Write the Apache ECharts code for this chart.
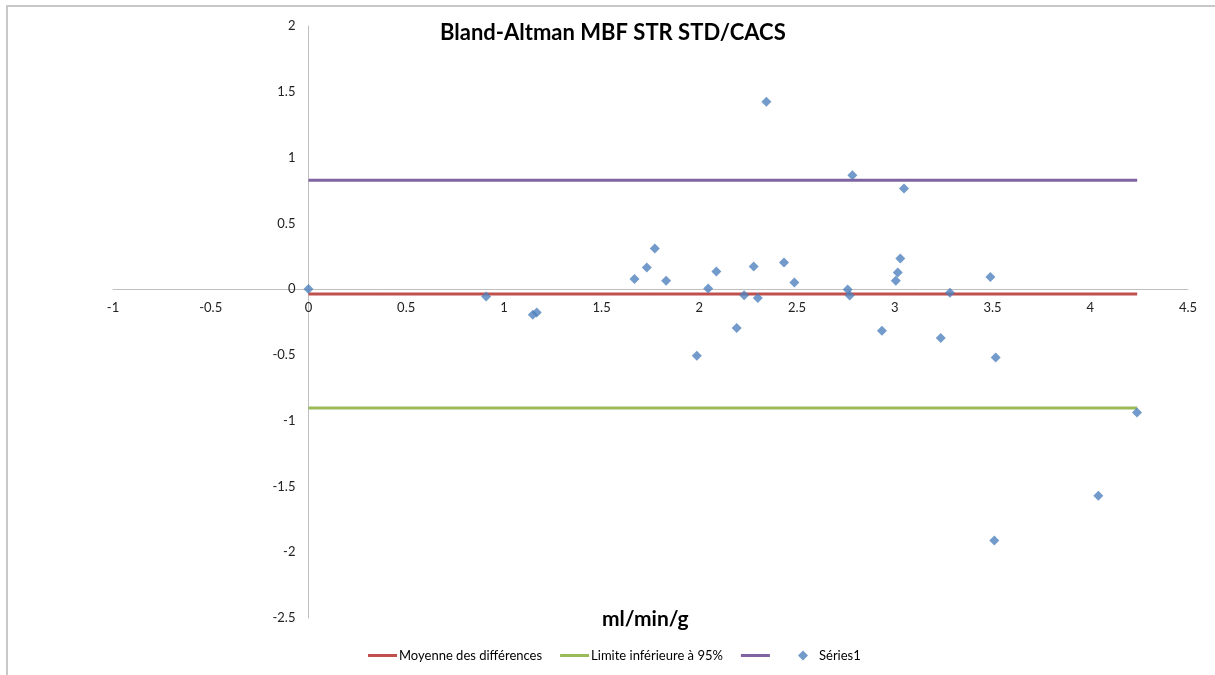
<!DOCTYPE html>
<html>
<head>
<meta charset="utf-8">
<script src="https://cdn.jsdelivr.net/npm/echarts@6/dist/echarts.min.js"></script>
<style>
html,body{margin:0;padding:0;background:#fff;}
#chart{width:1215px;height:675px;}
</style>
</head>
<body>
<div id="chart"></div>
<script>
// Data
var titleText = 'Bland-Altman MBF STR STD/CACS';
var xAxisTitle = 'ml/min/g';
var seriesNames = ['Moyenne des différences', 'Limite inférieure à 95%', ' ', 'Séries1'];
var xTicks = {min: -1, max: 4.5, interval: 0.5};
var yTicks = {min: -2.5, max: 2, interval: 0.5};

var meanDiff = -0.038;
var lowerLimit = -0.904;
var upperLimit = 0.828;
var lineXRange = [0, 4.24];

var pointX = [0, 0.909, 1.148, 1.168, 1.668, 1.731, 1.772, 1.830, 2.045, 2.087, 2.191, 2.229, 2.278, 2.299, 2.343, 2.433, 2.486,
              2.759, 2.769, 2.783, 2.934, 3.005, 3.015, 3.028, 3.047, 3.235, 3.282, 3.489, 3.516, 3.509, 4.041, 4.239, 1.987];
var pointY = [0, -0.056, -0.195, -0.177, 0.076, 0.164, 0.308, 0.063, 0.005, 0.134, -0.296, -0.046, 0.172, -0.068, 1.424, 0.202, 0.050,
              -0.003, -0.048, 0.866, -0.317, 0.063, 0.126, 0.232, 0.764, -0.372, -0.028, 0.093, -0.519, -1.911, -1.570, -0.937, -0.506];

var W = 1215, H = 675;
var grid = {left: 113, right: 27, top: 26, bottom: 57};
var gridW = W - grid.left - grid.right;
var gridH = H - grid.top - grid.bottom;
// shift each axis (line + labels) so it crosses the other axis at zero
var xAxisOffset = -gridH * (0 - yTicks.min) / (yTicks.max - yTicks.min);
var yAxisOffset = -gridW * (0 - xTicks.min) / (xTicks.max - xTicks.min);

var chart = echarts.init(document.getElementById('chart'));

function hLine(v) {
  return [[lineXRange[0], v], [lineXRange[1], v]];
}
var scatterData = pointX.map(function (x, i) { return [x, pointY[i]]; });

var font = 'Lato, "Liberation Sans", sans-serif';

var option = {
  animation: false,
  backgroundColor: '#ffffff',
  textStyle: {fontFamily: font},
  title: [
    {text: titleText, left: 440, top: 22, padding: 0,
     textStyle: {fontFamily: font, fontWeight: 'bold', fontSize: 22, color: '#000'}},
    {text: xAxisTitle, left: 602, top: 609, padding: 0,
     textStyle: {fontFamily: font, fontWeight: 'bold', fontSize: 21, color: '#000'}}
  ],
  graphic: [{
    type: 'rect', silent: true,
    shape: {x: 7, y: 6, width: 1400, height: 900},
    style: {fill: 'none', stroke: '#c8c8c8', lineWidth: 2}
  }],
  legend: [
    {
      data: [seriesNames[0], seriesNames[1], seriesNames[2]],
      left: 368, top: 649, padding: 0, itemWidth: 29, itemHeight: 3, itemGap: 18,
      icon: 'rect',
      formatter: function (n) { return n.trim(); },
      textStyle: {fontFamily: font, fontSize: 13, color: '#000', padding: [0, 0, 0, -3]}
    },
    {
      data: [{name: seriesNames[3], icon: 'diamond'}],
      left: 798, top: 649, padding: 0, itemWidth: 10, itemHeight: 10,
      textStyle: {fontFamily: font, fontSize: 13, color: '#000', padding: [0, 0, 0, 6]}
    }
  ],
  grid: {left: grid.left, right: grid.right, top: grid.top, bottom: grid.bottom, containLabel: false},
  xAxis: {
    type: 'value', min: xTicks.min, max: xTicks.max, interval: xTicks.interval,
    position: 'bottom', offset: xAxisOffset,
    axisLine: {onZero: false, lineStyle: {color: '#bfbfbf', width: 1}},
    axisTick: {show: false},
    splitLine: {show: false},
    axisLabel: {margin: 12, color: '#222', fontSize: 13, fontFamily: font}
  },
  yAxis: {
    type: 'value', min: yTicks.min, max: yTicks.max, interval: yTicks.interval,
    position: 'left', offset: yAxisOffset,
    axisLine: {show: true, onZero: false, lineStyle: {color: '#bfbfbf', width: 1}},
    axisTick: {show: false},
    splitLine: {show: false},
    axisLabel: {margin: 13, color: '#222', fontSize: 13, fontFamily: font}
  },
  series: [
    {name: seriesNames[0], type: 'line', data: hLine(meanDiff), symbol: 'none',
     lineStyle: {color: '#c0504d', width: 3}, itemStyle: {color: '#c0504d'}, z: 3},
    {name: seriesNames[1], type: 'line', data: hLine(lowerLimit), symbol: 'none',
     lineStyle: {color: '#9bbb59', width: 3}, itemStyle: {color: '#9bbb59'}, z: 3},
    {name: seriesNames[2], type: 'line', data: hLine(upperLimit), symbol: 'none',
     lineStyle: {color: '#8064a2', width: 3}, itemStyle: {color: '#8064a2'}, z: 3},
    {name: seriesNames[3], type: 'scatter', data: scatterData, symbol: 'diamond', symbolSize: 10,
     itemStyle: {color: '#4f81bd'}, z: 5}
  ]
};
chart.setOption(option);
</script>
</body>
</html>
